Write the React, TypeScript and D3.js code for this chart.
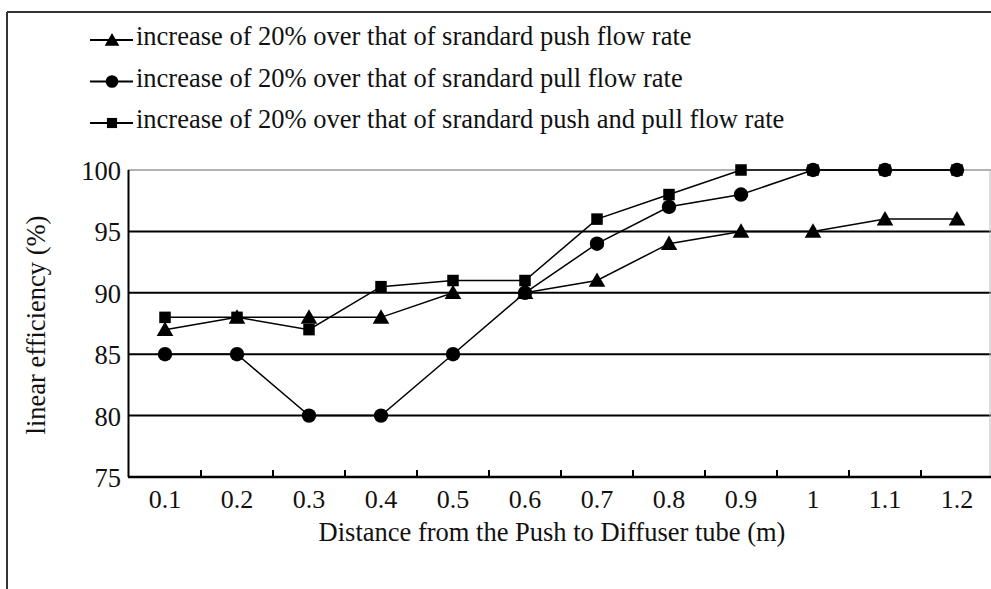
import React from "react";
import * as d3 from "d3";

const categories = ["0.1", "0.2", "0.3", "0.4", "0.5", "0.6", "0.7", "0.8", "0.9", "1", "1.1", "1.2"];
const pushValues = [87, 88, 88, 88, 90, 90, 91, 94, 95, 95, 96, 96];
const pullValues = [85, 85, 80, 80, 85, 90, 94, 97, 98, 100, 100, 100];
const pushPullValues = [88, 88, 87, 90.5, 91, 91, 96, 98, 100, 100, 100, 100];
const yTicks = [75, 80, 85, 90, 95, 100];
const legendLabels = [
  "increase of 20% over that of srandard push flow rate",
  "increase of 20% over that of srandard pull flow rate",
  "increase of 20% over that of srandard push and pull flow rate",
];
const xTitle = "Distance from the Push to Diffuser tube (m)";
const yTitle = "linear efficiency (%)";

const W = 991;
const H = 589;
const FONT = "'Liberation Serif', 'Times New Roman', serif";

type Shape = "triangle" | "circle" | "square";

function Marker({ x, y, shape, scale = 1 }: { x: number; y: number; shape: Shape; scale?: number }) {
  if (shape === "circle") return <circle cx={x} cy={y} r={7.2 * scale} fill="#000" />;
  if (shape === "square") {
    const s = 11.5 * scale;
    return <rect x={x - s / 2} y={y - s / 2} width={s} height={s} fill="#000" />;
  }
  const path = d3.symbol().type(d3.symbolTriangle).size(120 * scale * scale)()!;
  return <path d={path} transform={`translate(${x},${y + 1.5})`} fill="#000" />;
}

export default function App() {
  const x = d3.scaleBand<string>().domain(categories).range([129, 993]).paddingInner(0).paddingOuter(0);
  const y = d3.scaleLinear().domain([75, 100]).range([477, 170]);
  const cx = (c: string) => (x(c) as number) + x.bandwidth() / 2;

  const series: { values: number[]; shape: Shape }[] = [
    { values: pushPullValues, shape: "square" },
    { values: pushValues, shape: "triangle" },
    { values: pullValues, shape: "circle" },
  ];
  const legendShapes: Shape[] = ["triangle", "circle", "square"];

  const line = d3
    .line<number>()
    .x((_, i) => cx(categories[i]))
    .y((v) => y(v));

  const boundaries = categories.slice(1).map((c) => x(c) as number);

  return (
    <svg
      width={W}
      height={H}
      style={{ position: "absolute", left: 0, top: 0, background: "#fff" }}
      fontFamily={FONT}
    >
      <rect x={0} y={0} width={W} height={H} fill="#fff" />
      {/* outer frame */}
      <line x1={7} y1={12} x2={W} y2={12} stroke="#333" strokeWidth={2} />
      <line x1={7} y1={12} x2={7} y2={H} stroke="#333" strokeWidth={2} />

      {/* legend */}
      {legendLabels.map((lab, i) => {
        const by = 45 + i * 41.5;
        const ly = by - 5;
        return (
          <g key={lab}>
            <line x1={90} y1={ly} x2={133} y2={ly} stroke="#000" strokeWidth={2} />
            <Marker x={112} y={ly} shape={legendShapes[i]} scale={0.88} />
            <text x={136} y={by} fontSize={26.5} fill="#111">
              {lab}
            </text>
          </g>
        );
      })}

      {/* gridlines */}
      {yTicks
        .filter((t) => t !== 75 && t !== 100)
        .map((t) => (
          <line key={t} x1={128} x2={993} y1={y(t)} y2={y(t)} stroke="#000" strokeWidth={2} />
        ))}
      <line x1={128} x2={993} y1={y(100)} y2={y(100)} stroke="#999" strokeWidth={1.5} />
      <line x1={990} x2={990} y1={y(100)} y2={y(75)} stroke="#bbb" strokeWidth={1} />

      {/* axes */}
      <line x1={128.5} x2={128.5} y1={y(100)} y2={y(75)} stroke="#000" strokeWidth={2} />
      <line x1={128} x2={993} y1={y(75)} y2={y(75)} stroke="#000" strokeWidth={2.5} />
      {boundaries.map((b, i) => (
        <line key={i} x1={b} x2={b} y1={y(75)} y2={y(75) - 7} stroke="#000" strokeWidth={2} />
      ))}

      {/* y tick labels */}
      {yTicks.map((t) => (
        <text key={t} x={121} y={y(t) + 10} fontSize={26.5} textAnchor="end" fill="#111">
          {t}
        </text>
      ))}
      {/* x tick labels */}
      {categories.map((c) => (
        <text key={c} x={cx(c)} y={508} fontSize={26} textAnchor="middle" fill="#111">
          {c}
        </text>
      ))}

      {/* axis titles */}
      <text x={552} y={541} fontSize={26.5} textAnchor="middle" fill="#111">
        {xTitle}
      </text>
      <text
        transform={`translate(45,325) rotate(-90)`}
        fontSize={26.5}
        textAnchor="middle"
        fill="#111"
      >
        {yTitle}
      </text>

      {/* series */}
      {series.map((s, si) => (
        <g key={si}>
          <path d={line(s.values) ?? ""} fill="none" stroke="#000" strokeWidth={1.5} />
        </g>
      ))}
      {series.map((s, si) => (
        <g key={"m" + si}>
          {s.values.map((v, i) => (
            <Marker key={i} x={cx(categories[i])} y={y(v)} shape={s.shape} />
          ))}
        </g>
      ))}
    </svg>
  );
}
